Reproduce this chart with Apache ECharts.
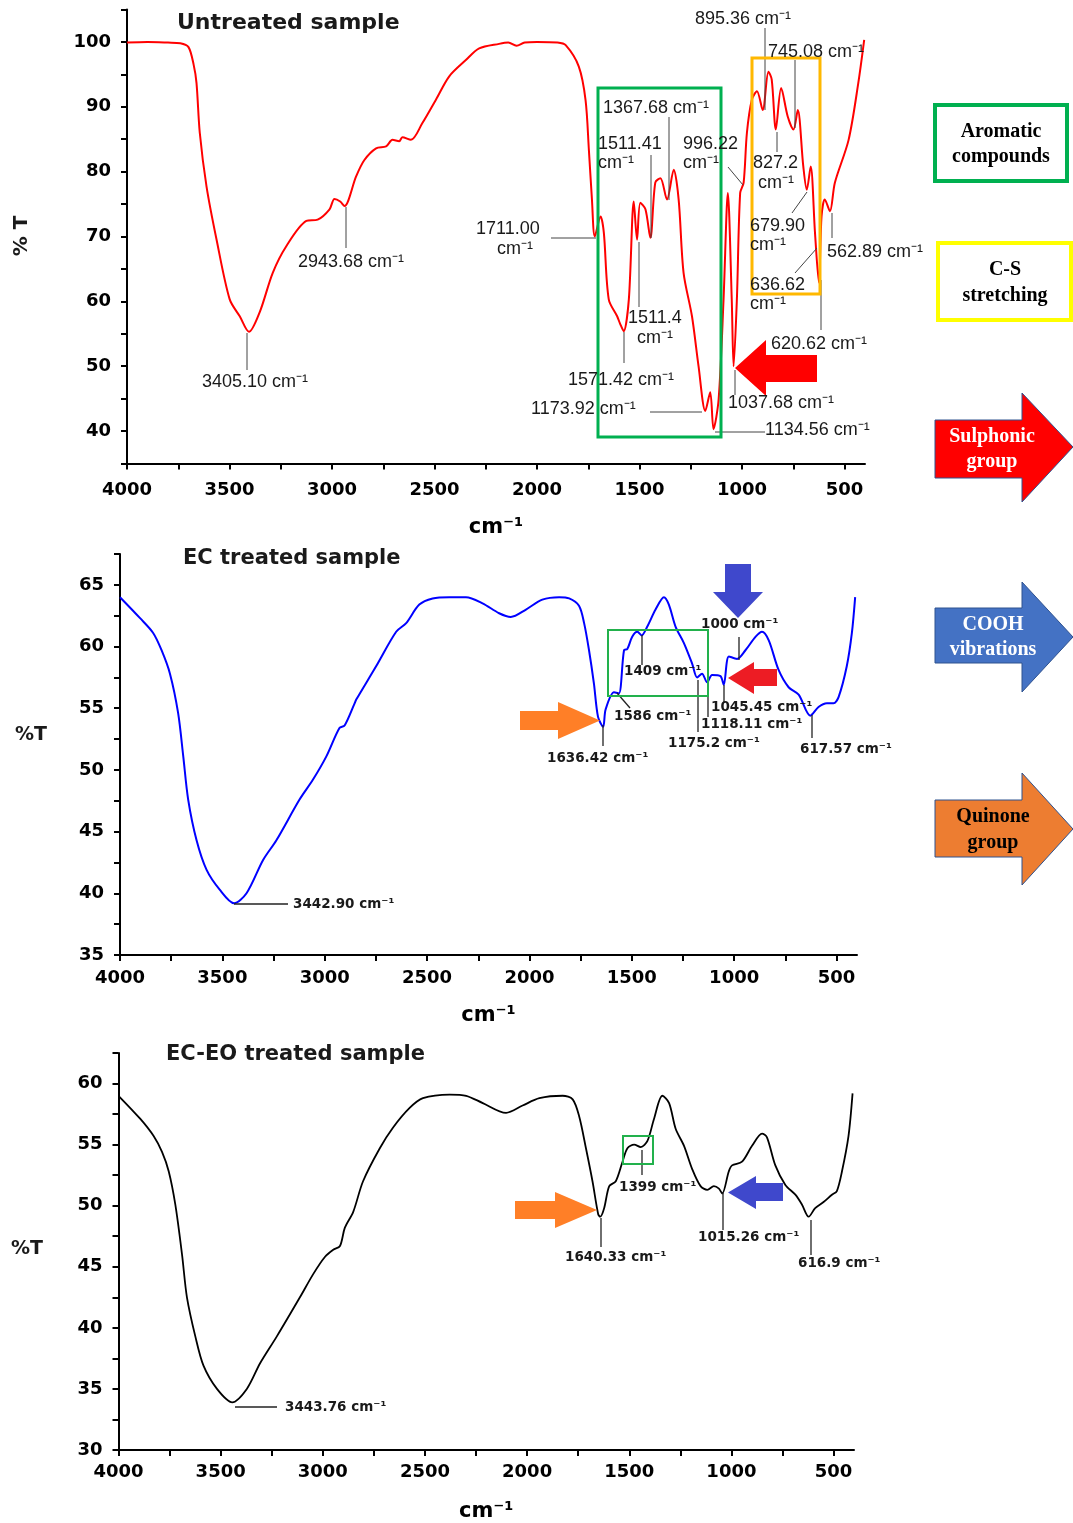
<!DOCTYPE html>
<html><head><meta charset="utf-8">
<script src="https://cdn.jsdelivr.net/npm/echarts/dist/echarts.min.js"></script>
<style>html,body{margin:0;padding:0;background:#fff}#c{width:1073px;height:1523px}</style>
</head><body><div id="c"></div>
<script>
// ---------- data ----------
const wnUntreated = [4000,3900,3800,3740,3700,3675,3661,3645,3612,3563,3499,3450,3405,3353,3289,3223,3125,3070,3012,2988,2960,2939,2882,2842,2785,2736,2705,2672,2657,2615,2559,2493,2428,2347,2282,2185,2140,2100,2060,2000,1900,1860,1796,1763,1747,1732,1718,1690,1674,1650,1609,1594,1577,1552,1528,1512,1496,1471,1447,1423,1398,1366,1333,1309,1285,1244,1212,1179,1155,1139,1114,1090,1069,1050,1041,1025,1009,992,976,952,927,899,871,855,835,809,777,749,728,701,684,665,644,625,612,596,571,547,480,433,404];
const tUntreated = [99.9,100.0,99.9,99.8,99.2,96.5,93.7,86,77.7,69.5,60.3,57.7,55.3,58.3,64.4,68.5,72.4,72.6,74.2,75.8,75.4,74.7,79.3,81.8,83.6,83.9,84.9,84.7,85.3,84.9,87.5,91.1,94.7,97.2,99.0,99.7,99.9,99.4,99.9,100,99.9,99.5,96.2,91,83.4,75.7,70,73.1,70.6,60.3,57.7,56.5,55.4,60.3,75.4,69.5,75.2,74.2,69.8,78.3,79.0,75.7,80.3,75.7,64.4,57.7,50,43.1,46,40.3,44.9,60.3,76.7,60.3,50,60.3,76.7,78.3,86,91.1,92.4,89.5,95.4,94.2,86.5,92.9,88.5,86.5,89.5,80.8,77.2,80.8,70.6,62.9,73.1,75.7,73.9,78.3,84.9,93.6,100.3];

const wnEC = [4000,3902,3838,3797,3756,3716,3691,3667,3626,3577,3513,3443,3382,3301,3236,3123,3058,2992,2928,2903,2854,2846,2749,2651,2602,2538,2473,2391,2310,2229,2148,2091,2017,1937,1855,1806,1758,1733,1709,1685,1665,1640,1628,1587,1563,1538,1522,1498,1473,1452,1425,1384,1343,1319,1286,1246,1205,1181,1157,1132,1108,1067,1051,1026,986,945,895,864,831,783,734,685,628,588,547,515,490,450,425,409];
const tEC = [64.0,62.3,61.1,59.7,57.8,54.6,51.1,47.6,44.3,41.9,40.3,39.2,40.0,42.7,44.3,47.6,49.2,51.1,53.4,53.6,55.4,55.7,58.4,61.2,61.9,63.4,63.9,64.0,64.0,63.5,62.7,62.4,63.0,63.8,64.0,63.9,63.3,61.9,59.7,57.0,54.3,53.5,54.9,56.3,56.2,59.7,59.8,60.8,61.2,60.9,61.6,63.0,64.0,63.4,61.6,60.3,58.6,57.5,57.8,57.1,57.7,57.6,56.9,59.2,59.0,59.7,60.8,61.2,60.5,58.1,56.7,56.1,54.4,55.1,55.4,55.4,55.9,58.4,61.1,64.0];

const wnECEO = [4000,3893,3828,3787,3754,3722,3689,3665,3624,3584,3518,3443,3372,3307,3225,3112,3047,2990,2949,2916,2892,2851,2803,2721,2656,2575,2510,2379,2298,2217,2103,2022,1940,1826,1777,1745,1712,1680,1652,1642,1623,1598,1566,1533,1509,1476,1444,1411,1379,1338,1305,1273,1232,1192,1151,1118,1086,1061,1045,1013,997,948,899,850,826,785,736,687,655,622,590,549,508,484,459,427,407];
const tECEO = [59.0,57.1,55.7,54.4,52.8,50.1,46.0,42.5,39.3,36.9,35.0,33.9,35.0,37.1,39.3,42.5,44.4,45.8,46.4,46.7,48.2,49.5,52.0,54.7,56.4,58.0,58.8,59.1,59.0,58.4,57.6,58.2,58.8,59.0,58.7,57.3,54.7,52.0,49.3,49.1,49.8,51.6,52.0,53.6,54.7,55.0,54.8,55.3,57.1,59.0,58.4,56.3,54.9,53.0,51.6,51.3,51.6,51.4,51.0,52.8,53.3,53.6,54.9,55.9,55.6,53.3,51.7,50.9,50.1,49.1,49.8,50.3,50.9,51.2,52.8,55.7,59.2];

const xTickLabels = [500,1000,1500,2000,2500,3000,3500,4000];
const xTickMarks = [500,750,1000,1250,1500,1750,2000,2250,2500,2750,3000,3250,3500,3750,4000];
const yLabels1 = [40,50,60,70,80,90,100];
const yTicks1 = [35,40,45,50,55,60,65,70,75,80,85,90,95,100,105];
const yLabels2 = [35,40,45,50,55,60,65];
const yTicks2 = [35,37.5,40,42.5,45,47.5,50,52.5,55,57.5,60,62.5,65,67.5];
const yLabels3 = [30,35,40,45,50,55,60];
const yTicks3 = [30,32.5,35,37.5,40,42.5,45,47.5,50,52.5,55,57.5,60,62.5];

const titles = ['Untreated sample','EC treated sample','EC-EO treated sample'];

// ---------- chart ----------
const zip = (a,b)=>a.map((v,i)=>[v,b[i]]);
const AX = '#000';
const tickFont = {fontFamily:'"DejaVu Sans"', fontWeight:'bold', fontSize:18, color:'#000', formatter:v=>String(v)};

function xAxis(gi, margin, gap){
  return {type:'value', gridIndex:gi, inverse:true, min:400, max:4000,
    axisLine:{lineStyle:{color:AX,width:2}},
    axisTick:{customValues:xTickMarks, length:6, lineStyle:{color:AX,width:2}},
    axisLabel:Object.assign({customValues:xTickLabels, margin:margin}, tickFont),
    splitLine:{show:false},
    name:'cm⁻¹', nameLocation:'middle', nameGap:gap,
    nameTextStyle:{fontFamily:'"DejaVu Sans"', fontWeight:'bold', fontSize:21, color:'#000'}};
}
function yAxis(gi, min, max, labels, ticks){
  return {type:'value', gridIndex:gi, min:min, max:max,
    axisLine:{show:true, lineStyle:{color:AX,width:2}},
    axisTick:{show:true, customValues:ticks, length:6, lineStyle:{color:AX,width:2}},
    axisLabel:Object.assign({customValues:labels, margin:16}, tickFont),
    splitLine:{show:false}};
}

// ---------- annotations (pixel overlay) ----------
const G = [];
function T(x,y,text,font,opt){
  opt = opt||{};
  G.push({type:'text', x:x, y:y, rotation:opt.rot||0, z:100,
    style:{text:text, font:font, fill:opt.fill||'#1a1a1a',
      textAlign:opt.align||'left', align:opt.align||'left',
      textVerticalAlign:'middle', verticalAlign:'middle'}});
}
function L(x1,y1,x2,y2,c,w){
  G.push({type:'line', z:90, shape:{x1:x1,y1:y1,x2:x2,y2:y2}, style:{stroke:c||'#444', lineWidth:w||1}});
}
function R(x,y,w,h,c,lw,fill){
  G.push({type:'rect', z:95, shape:{x:x,y:y,width:w,height:h}, style:{fill:fill||'none', stroke:c, lineWidth:lw}});
}
function P(pts,fill,stroke,lw){
  G.push({type:'polygon', z:96, shape:{points:pts}, style:{fill:fill, stroke:stroke||'none', lineWidth:lw||0}});
}

const F1 = '18px "Liberation Sans", Arial, sans-serif';
const F2 = 'bold 13.5px "DejaVu Sans", sans-serif';
const FT = 'bold 22px "DejaVu Sans", sans-serif';
const FS = 'bold 20px "Liberation Serif", "Times New Roman", serif';

// titles
T(177,23,titles[0],FT);
T(183,559,titles[1],'bold 21px "DejaVu Sans", sans-serif');
T(166,1055,titles[2],'bold 21px "DejaVu Sans", sans-serif');
// y axis names
T(22,236,'% T','bold 20px "DejaVu Sans", sans-serif',{align:'center', rot:Math.PI/2});
T(31,735,'%T','bold 19px "DejaVu Sans", sans-serif',{align:'center'});
T(27,1249,'%T','bold 19px "DejaVu Sans", sans-serif',{align:'center'});

// panel 1 labels
[[202,382,'3405.10 cm⁻¹'],[298,262,'2943.68 cm⁻¹'],[476,229,'1711.00'],[497,249,'cm⁻¹'],
 [603,108,'1367.68 cm⁻¹'],[598,144,'1511.41'],[598,163,'cm⁻¹'],[683,144,'996.22'],[683,163,'cm⁻¹'],
 [628,318,'1511.4'],[637,338,'cm⁻¹'],[568,380,'1571.42 cm⁻¹'],[531,409,'1173.92 cm⁻¹'],
 [765,430,'1134.56 cm⁻¹'],[728,403,'1037.68 cm⁻¹'],[695,19,'895.36 cm⁻¹'],[768,52,'745.08 cm⁻¹'],
 [753,163,'827.2'],[758,183,'cm⁻¹'],[750,226,'679.90'],[750,245,'cm⁻¹'],[750,285,'636.62'],[750,304,'cm⁻¹'],
 [827,252,'562.89 cm⁻¹'],[771,344,'620.62 cm⁻¹']].forEach(a=>T(a[0],a[1],a[2],F1));
[[247,333,247,370],[346,207,346,248],[551,238,596,238],[669,117,669,200],[651,155,651,238],
 [728,167,743,185],[639,242,639,307],[624,332,624,363],[650,412,702,412],[715,432,765,432],
 [735,370,735,395],[765,28,765,110],[795,60,795,128],[777,132,777,152],[792,213,807,192],
 [795,273,817,248],[832,213,832,238],[821,280,821,330]].forEach(a=>L(a[0],a[1],a[2],a[3]));
R(598,88,123,349,'#00b050',3);
R(752,58,68,236,'#ffb800',3);
P([[735,368],[766,340],[766,355],[817,355],[817,382],[766,382],[766,396]],'#ff0000');

// panel 2 labels
[[293,904,'3442.90 cm⁻¹'],[547,758,'1636.42 cm⁻¹'],[614,716,'1586 cm⁻¹'],[624,671,'1409 cm⁻¹'],
 [668,743,'1175.2 cm⁻¹'],[701,724,'1118.11 cm⁻¹'],[711,707,'1045.45 cm⁻¹'],[701,624,'1000 cm⁻¹'],
 [800,749,'617.57 cm⁻¹']].forEach(a=>T(a[0],a[1],a[2],F2));
[[234,904,288,904],[603,725,603,746],[617,693,630,708],[642,635,642,665],[698,680,698,732],
 [708,682,708,717],[724,685,724,703],[739,637,739,660],[812,715,812,738]].forEach(a=>L(a[0],a[1],a[2],a[3],'#222',1.3));
R(608,630,100,66,'#22b14c',2);
P([[520,711],[558,711],[558,702],[600,720.5],[558,739],[558,730],[520,730]],'#ff7f27');
P([[728,678],[754,662],[754,669],[777,669],[777,686],[754,686],[754,694]],'#ed1c24');
P([[725,564],[751,564],[751,592],[763,592],[738,618],[713,592],[725,592]],'#3f48cc');

// panel 3 labels
[[285,1407,'3443.76 cm⁻¹'],[565,1257,'1640.33 cm⁻¹'],[619,1187,'1399 cm⁻¹'],[698,1237,'1015.26 cm⁻¹'],
 [798,1263,'616.9 cm⁻¹']].forEach(a=>T(a[0],a[1],a[2],F2));
[[235,1407,277,1407],[601,1218,601,1247],[642,1150,642,1175],[723,1193,723,1230],[811,1220,811,1255]]
 .forEach(a=>L(a[0],a[1],a[2],a[3],'#222',1.3));
R(623,1136,30,28,'#22b14c',2);
P([[515,1201],[555,1201],[555,1192],[597,1210],[555,1228],[555,1219],[515,1219]],'#ff7f27');
P([[728,1192.5],[756,1176],[756,1183],[783,1183],[783,1201],[756,1201],[756,1209]],'#3f48cc');

// side legend
R(935,105,132,76,'#00b050',4,'#fff');
T(1001,132,'Aromatic',FS,{align:'center',fill:'#000'});
T(1001,157,'compounds',FS,{align:'center',fill:'#000'});
R(938,243,133,77,'#ffff00',4,'#fff');
T(1005,270,'C-S',FS,{align:'center',fill:'#000'});
T(1005,296,'stretching',FS,{align:'center',fill:'#000'});
P([[935,420],[1022,420],[1022,393],[1073,447],[1022,502],[1022,478],[935,478]],'#ff0000','#2f528f',1);
T(992,437,'Sulphonic',FS,{align:'center',fill:'#fff'});
T(992,462,'group',FS,{align:'center',fill:'#fff'});
P([[935,608],[1022,608],[1022,582],[1073,637],[1022,692],[1022,663],[935,663]],'#4472c4','#2f528f',1);
T(993,625,'COOH',FS,{align:'center',fill:'#fff'});
T(993,650,'vibrations',FS,{align:'center',fill:'#fff'});
P([[935,800],[1022,800],[1022,773],[1073,829],[1022,885],[1022,857],[935,857]],'#ed7d31','#2f528f',1);
T(993,817,'Quinone',FS,{align:'center',fill:'#000'});
T(993,843,'group',FS,{align:'center',fill:'#000'});

const chart = echarts.init(document.getElementById('c'), null, {renderer:'canvas', width:1073, height:1523});
chart.setOption({
  animation:false,
  backgroundColor:'#fff',
  grid:[
    {left:127, top:9.5, width:738, height:454},
    {left:120, top:554, width:737, height:401},
    {left:118.5, top:1053, width:735.5, height:402}
  ],
  xAxis:[xAxis(0,18,54), xAxis(1,14,50), xAxis(2,13,51)],
  yAxis:[yAxis(0,35,105,yLabels1,yTicks1), yAxis(1,35,67.5,yLabels2,yTicks2), yAxis(2,30,62.5,yLabels3,yTicks3)],
  series:[
    {type:'line', name:titles[0], xAxisIndex:0, yAxisIndex:0, data:zip(wnUntreated,tUntreated), showSymbol:false, smooth:0.3, lineStyle:{color:'#ff0000', width:2}},
    {type:'line', name:titles[1], xAxisIndex:1, yAxisIndex:1, data:zip(wnEC,tEC), showSymbol:false, smooth:0.3, lineStyle:{color:'#0000ff', width:2}},
    {type:'line', name:titles[2], xAxisIndex:2, yAxisIndex:2, data:zip(wnECEO,tECEO), showSymbol:false, smooth:0.3, lineStyle:{color:'#000', width:1.8}}
  ],
  graphic:G
});
</script></body></html>
